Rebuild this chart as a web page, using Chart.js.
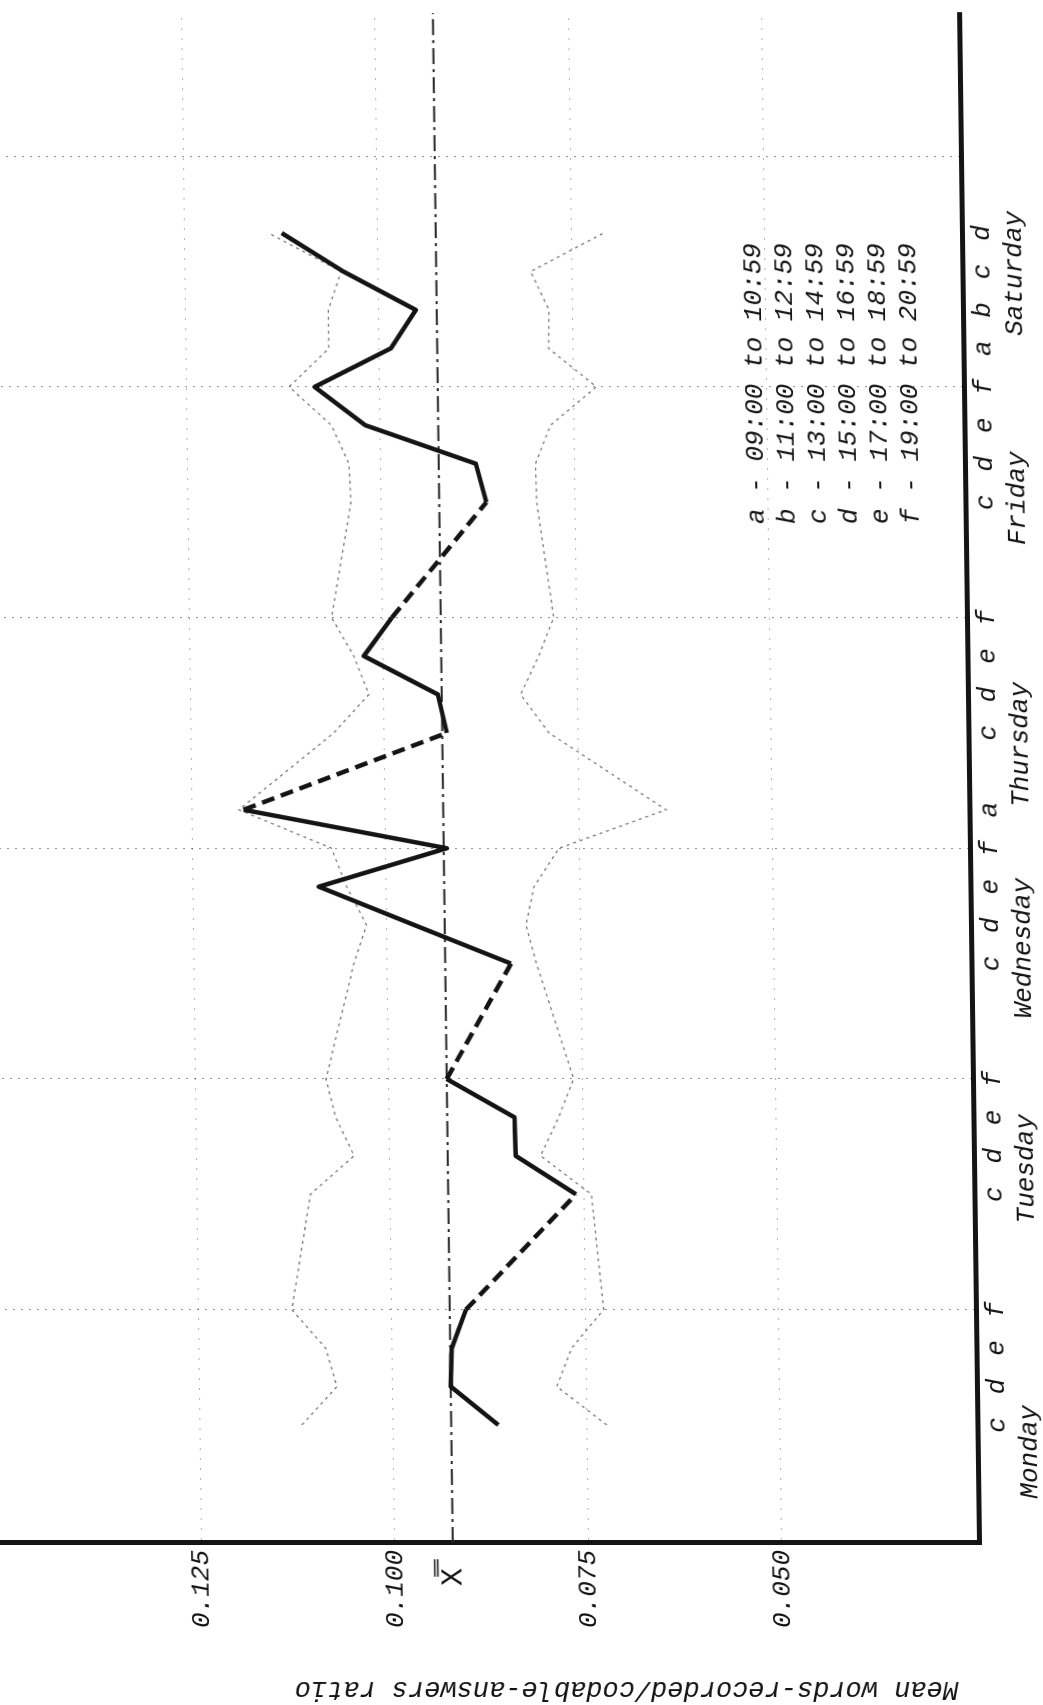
<!DOCTYPE html>
<html>
<head>
<meta charset="utf-8">
<title>Mean words-recorded/codable-answers ratio by session</title>
<script src="https://cdn.jsdelivr.net/npm/chart.js@4.4.1/dist/chart.umd.min.js"></script>
<style>
  html, body { margin: 0; padding: 0; background: #fff; }
  body { width: 1043px; height: 1705px; overflow: hidden; position: relative; }
  /* the scanned sheet leans a little: vertical rules drift left toward the top */
  #sheet { position: absolute; left: 0; top: 0; width: 1043px; height: 1705px;
           transform-origin: 0 1543px; transform: skewX(0.745deg); }
  /* chart is drawn upright, then turned a quarter-turn anticlockwise like the page */
  #turn { position: absolute; left: 0; top: 0; width: 1705px; height: 1043px;
          transform-origin: 0 0; transform: translateY(1705px) rotate(-90deg); }
  canvas { display: block; }
</style>
</head>
<body>
<div id="sheet"><div id="turn"><canvas id="ratio-chart" width="1705" height="1043"></canvas></div></div>
<script>
const DAYS = ["Monday", "Tuesday", "Wednesday", "Thursday", "Friday", "Saturday"];
const PERIODS = ["a", "b", "c", "d", "e", "f"];
// where each day name sits under the axis, in session slots (Monday a = 0)
const DAY_TICKS = [1.3, 8.66, 14.4, 19.7, 26.1, 31.95];
const KEY_LINES = [
  "a - 09:00 to 10:59",
  "b - 11:00 to 12:59",
  "c - 13:00 to 14:59",
  "d - 15:00 to 16:59",
  "e - 17:00 to 18:59",
  "f - 19:00 to 20:59",
];
const Y_TITLE = "Mean words-recorded/codable-answers ratio";

// one value per session slot, Monday a ... Saturday f; null = no session
const RATIO = [
  null, null, 0.0864, 0.0925, 0.0923, 0.0904,
  null, null, 0.0760, 0.0837, 0.0838, 0.0925,
  null, null, 0.0840, 0.0964, 0.1087, 0.0921,
  0.1183, null, 0.0919, 0.0930, 0.1025, 0.0988,
  null, null, 0.0864, 0.0877, 0.1019, 0.1084,
  0.0985, 0.0952, 0.1045, 0.1124, null, null,
];
const UPPER_LIMIT = [
  null, null, 0.1118, 0.1072, 0.1086, 0.1129,
  null, null, 0.1103, 0.1046, 0.1069, 0.1081,
  null, null, 0.1043, 0.1026, 0.1051, 0.1070,
  0.1189, null, 0.1065, 0.1019, 0.1038, 0.1066,
  null, null, 0.1039, 0.1041, 0.1063, 0.1117,
  0.1065, 0.1065, 0.1048, 0.1141, null, null,
];
const LOWER_LIMIT = [
  null, null, 0.0724, 0.0788, 0.0768, 0.0726,
  null, null, 0.0740, 0.0805, 0.0781, 0.0761,
  null, null, 0.0807, 0.0820, 0.0809, 0.0776,
  0.0637, null, 0.0787, 0.0823, 0.0799, 0.0779,
  null, null, 0.0799, 0.0800, 0.0780, 0.0720,
  0.0781, 0.0780, 0.0803, 0.0708, null, null,
];
const GRAND_MEAN = 0.0925;
const Y_TICKS = [0.05, 0.075, 0.1, 0.125];

const X_MIN = -1.07;
const X_MAX = 38.72;
const Y_MIN = 0.0245;
const Y_MAX = 0.151;

const INK = "#141414";
const FONT_FAMILY = "'Liberation Mono', 'DejaVu Sans Mono', monospace";

Chart.defaults.font = { family: FONT_FAMILY, size: 26, style: "italic", lineHeight: 1.2 };
Chart.defaults.color = INK;

// slots that get a letter under the axis, plus every "f" (day separator)
const slotTicks = RATIO.map((v, i) => i).filter((i) => RATIO[i] !== null || i % 6 === 5);
const isSeparator = (v) => Number.isInteger(v) && v % 6 === 5;
const toPoints = (arr) => arr.map((y, x) => ({ x, y }));
// dashed where the line bridges sessions with no data
const acrossGap = (c, dash) => (c.p0.skip || c.p1.skip ? dash : undefined);

// typed time key and the axis caption
const typedText = {
  id: "typedText",
  afterDraw(chart) {
    const { ctx } = chart;
    ctx.save();
    ctx.fillStyle = INK;
    ctx.textBaseline = "middle";
    ctx.font = `italic 26px ${FONT_FAMILY}`;
    KEY_LINES.forEach((line, i) => ctx.fillText(line, 1181, 770 + i * 31));

    ctx.translate(16, 957);
    ctx.rotate(-Math.PI / 2);
    ctx.font = `italic 27px ${FONT_FAMILY}`;
    ctx.textAlign = "left";
    ctx.fillText(Y_TITLE, 0, 0);
    ctx.restore();
  },
};

const ctx = document.getElementById("ratio-chart").getContext("2d");

new Chart(ctx, {
  type: "line",
  data: {
    datasets: [
      {
        label: "Ratio",
        data: toPoints(RATIO),
        borderColor: INK,
        borderWidth: 4.5,
        borderJoinStyle: "round",
        borderCapStyle: "butt",
        pointRadius: 0,
        tension: 0,
        spanGaps: true,
        segment: {
          borderDash: (c) => acrossGap(c, [13, 7]),
        },
      },
      {
        label: "Grand mean",
        data: [{ x: X_MIN, y: GRAND_MEAN }, { x: X_MAX, y: GRAND_MEAN }],
        borderColor: "#262626",
        borderWidth: 2,
        borderDash: [16, 5, 3, 5],
        pointRadius: 0,
      },
      {
        label: "Upper limit",
        data: toPoints(UPPER_LIMIT),
        borderColor: "rgba(30,30,30,0.6)",
        borderWidth: 1.3,
        borderDash: [3, 4],
        pointRadius: 0,
        tension: 0,
        spanGaps: true,
      },
      {
        label: "Lower limit",
        data: toPoints(LOWER_LIMIT),
        borderColor: "rgba(30,30,30,0.6)",
        borderWidth: 1.3,
        borderDash: [3, 4],
        pointRadius: 0,
        tension: 0,
        spanGaps: true,
      },
    ],
  },
  options: {
    responsive: false,
    animation: false,
    devicePixelRatio: 1,
    layout: { padding: { left: 0, right: 13, top: 0, bottom: 0 } },
    plugins: { legend: { display: false }, tooltip: { enabled: false } },
    scales: {
      x: {
        type: "linear",
        position: "bottom",
        bounds: "data",
        min: X_MIN,
        max: X_MAX,
        afterBuildTicks: (axis) => {
          axis.ticks = slotTicks.map((value) => ({ value }));
        },
        afterFit: (axis) => {
          axis.height = 37;
        },
        grid: {
          drawTicks: false,
          lineWidth: 1,
          color: (c) => (c.tick && isSeparator(c.tick.value) ? "rgba(0,0,0,0.45)" : "rgba(0,0,0,0)"),
        },
        border: { color: INK, width: 5, dash: [2, 6] },
        ticks: {
          padding: 5,
          autoSkip: false,
          maxRotation: 0,
          callback: (v) => (RATIO[v] == null ? "" : PERIODS[v % 6]),
        },
      },
      xDay: {
        type: "linear",
        position: "bottom",
        bounds: "data",
        min: X_MIN,
        max: X_MAX,
        afterBuildTicks: (axis) => {
          axis.ticks = DAY_TICKS.map((value) => ({ value }));
        },
        afterFit: (axis) => {
          axis.height = 27;
        },
        grid: { display: false, drawTicks: false },
        border: { display: false },
        ticks: {
          padding: 0,
          autoSkip: false,
          maxRotation: 0,
          callback: (v, i) => DAYS[i],
        },
      },
      y: {
        type: "linear",
        bounds: "data",
        min: Y_MIN,
        max: Y_MAX,
        afterBuildTicks: (axis) => {
          axis.ticks = [...Y_TICKS, GRAND_MEAN].sort((a, b) => a - b).map((value) => ({ value }));
        },
        afterFit: (axis) => {
          axis.width = 162;
          // labels never reach the ends, so no room is needed there
          axis.paddingTop = 0;
          axis.paddingBottom = 0;
        },
        grid: {
          drawTicks: false,
          lineWidth: 1,
          color: (c) => (c.tick && c.tick.value === GRAND_MEAN ? "rgba(0,0,0,0)" : "rgba(0,0,0,0.3)"),
        },
        border: { color: INK, width: 5, dash: [2, 8] },
        ticks: {
          padding: 7,
          font: (c) =>
            c.tick && c.tick.value === GRAND_MEAN
              ? { family: FONT_FAMILY, size: 30, style: "normal" }
              : { family: FONT_FAMILY, size: 26, style: "italic" },
          callback: (v) => (v === GRAND_MEAN ? "X\u033F " : v.toFixed(3)),
        },
      },
    },
  },
  plugins: [typedText],
});
</script>
</body>
</html>
